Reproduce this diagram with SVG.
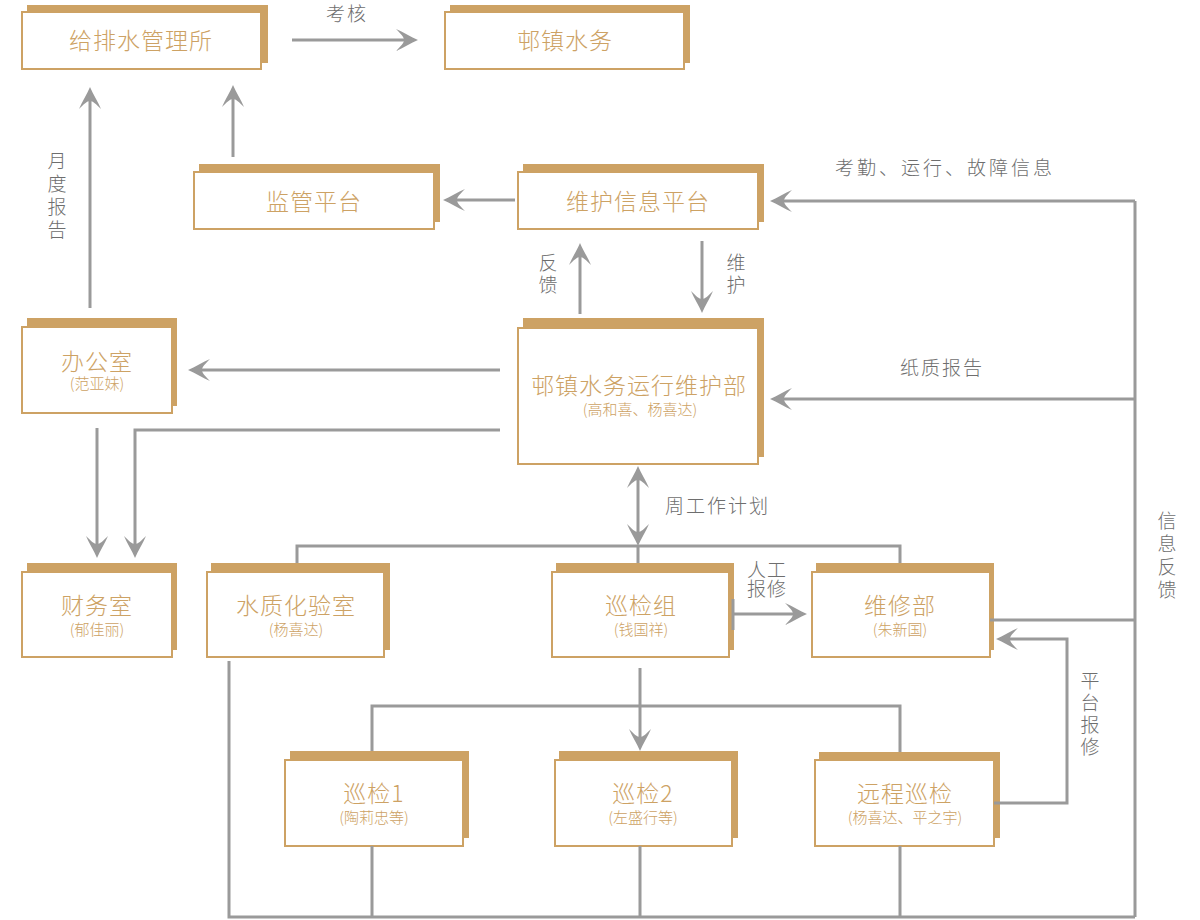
<svg xmlns="http://www.w3.org/2000/svg" width="1200" height="920" viewBox="0 0 1200 920">
<style>
.sh{fill:#CDA264}
.bx{fill:#fff;stroke:#CDA264;stroke-width:2}
.t{font-family:"Noto Sans CJK SC","Noto Sans",sans-serif;font-weight:300;fill:#CDA264;font-size:23px;text-anchor:middle;letter-spacing:1px}
.s{font-size:15px;letter-spacing:0}
.l{font-family:"Noto Sans CJK SC","Noto Sans",sans-serif;font-weight:300;fill:#6e6e6e;font-size:19px;letter-spacing:2px}
.h{text-anchor:middle;letter-spacing:1px}
.v{writing-mode:vertical-rl;text-orientation:upright;letter-spacing:3px}
.c{fill:none;stroke:#9a9a9a;stroke-width:3}
.a{marker-end:url(#ah)}
.d{marker-start:url(#ah);marker-end:url(#ah)}
</style>
<defs>
<marker id="ah" viewBox="-24 -12 26 24" markerWidth="26" markerHeight="24" refX="-4" refY="0" orient="auto-start-reverse" markerUnits="userSpaceOnUse">
<path d="M0,0 C-7,-3 -15,-8 -22,-11 C-17,-6 -14,-3 -14,0 C-14,3 -17,6 -22,11 C-15,8 -7,3 0,0Z" fill="#9a9a9a"/>
</marker>
</defs>
<rect width="1200" height="920" fill="#fff"/>

<g id="n-gps">
<rect class="sh" x="27" y="5" width="241" height="58"/>
<rect class="bx" x="22" y="12" width="239" height="57"/>
<text class="t" x="141" y="49">给排水管理所</text>
</g>
<g id="n-sw">
<rect class="sh" x="450" y="5" width="240" height="58"/>
<rect class="bx" x="445" y="12" width="239" height="57"/>
<text class="t" x="565" y="49">邨镇水务</text>
</g>
<g id="n-jg">
<rect class="sh" x="199" y="164" width="241" height="58"/>
<rect class="bx" x="194" y="172" width="240" height="57"/>
<text class="t" x="314" y="210">监管平台</text>
</g>
<g id="n-wh">
<rect class="sh" x="523" y="164" width="241" height="58"/>
<rect class="bx" x="518" y="172" width="240" height="57"/>
<text class="t" x="638" y="210">维护信息平台</text>
</g>
<g id="n-yw">
<rect class="sh" x="523" y="318" width="241" height="139"/>
<rect class="bx" x="518" y="328" width="240" height="136"/>
<text class="t"><tspan x="639" y="394">邨镇水务运行维护部</tspan><tspan class="s" x="640" y="415">(高和喜、杨喜达)</tspan></text>
</g>
<g id="n-bgs">
<rect class="sh" x="27" y="318" width="150" height="88"/>
<rect class="bx" x="22" y="327" width="150" height="86"/>
<text class="t"><tspan x="97" y="370">办公室</tspan><tspan class="s" x="97" y="389">(范亚妹)</tspan></text>
</g>
<g id="n-cws">
<rect class="sh" x="27" y="563" width="150" height="87"/>
<rect class="bx" x="22" y="572" width="150" height="85"/>
<text class="t"><tspan x="97" y="614">财务室</tspan><tspan class="s" x="97" y="635">(郁佳丽)</tspan></text>
</g>
<g id="n-szh">
<rect class="sh" x="211" y="563" width="179" height="87"/>
<rect class="bx" x="207" y="572" width="177" height="85"/>
<text class="t"><tspan x="296" y="614">水质化验室</tspan><tspan class="s" x="296" y="635">(杨喜达)</tspan></text>
</g>
<g id="n-xjz">
<rect class="sh" x="556" y="563" width="178" height="87"/>
<rect class="bx" x="552" y="572" width="177" height="85"/>
<text class="t"><tspan x="641" y="614">巡检组</tspan><tspan class="s" x="641" y="635">(钱国祥)</tspan></text>
</g>
<g id="n-wxb">
<rect class="sh" x="816" y="563" width="178" height="87"/>
<rect class="bx" x="812" y="572" width="178" height="85"/>
<text class="t"><tspan x="900" y="614">维修部</tspan><tspan class="s" x="900" y="635">(朱新国)</tspan></text>
</g>
<g id="n-xj1">
<rect class="sh" x="290" y="751" width="179" height="87"/>
<rect class="bx" x="285" y="760" width="178" height="86"/>
<text class="t"><tspan x="374" y="802">巡检1</tspan><tspan class="s" x="374" y="823">(陶莉忠等)</tspan></text>
</g>
<g id="n-xj2">
<rect class="sh" x="559" y="751" width="179" height="87"/>
<rect class="bx" x="555" y="760" width="177" height="86"/>
<text class="t"><tspan x="643" y="802">巡检2</tspan><tspan class="s" x="643" y="823">(左盛行等)</tspan></text>
</g>
<g id="n-ycxj">
<rect class="sh" x="819" y="752" width="181" height="86"/>
<rect class="bx" x="815" y="760" width="179" height="86"/>
<text class="t"><tspan x="905" y="802">远程巡检</tspan><tspan class="s" x="905" y="823">(杨喜达、平之宇)</tspan></text>
</g>

<g id="connectors">
<path class="c a" d="M292,40 H414"/>
<path class="c a" d="M233,157 V89"/>
<path class="c a" d="M90,308 V91"/>
<path class="c a" d="M515,200 H447"/>
<path class="c a" d="M580,314 V247"/>
<path class="c a" d="M702,241 V309"/>
<path class="c a" d="M1135,201 H774"/>
<path class="c" d="M1135,201 V917"/>
<path class="c a" d="M1135,399 H774"/>
<path class="c a" d="M500,370 H192"/>
<path class="c a" d="M97,428 V554"/>
<path class="c a" d="M500,430 H135 V554"/>
<path class="c d" d="M638,470 V542"/>
<path class="c" d="M297,563 V546 H900 V563 M638,546 V563"/>
<path class="c a" d="M733,614 H803"/>
<path class="c" d="M733,599 V630"/>
<path class="c" d="M990,620 H1135"/>
<path class="c a" d="M994,803 H1067 V639 H1000"/>
<path class="c a" d="M640,668 V747"/>
<path class="c" d="M372,751 V706 H900 V752"/>
<path class="c" d="M229,661 V917 H1135 M372,846 V917 M640,846 V917 M900,846 V917"/>
</g>

<g id="labels">
<text class="l" x="326" y="21">考核</text>
<text class="l" x="835" y="175" style="letter-spacing:3px">考勤、运行、故障信息</text>
<text class="l" x="900" y="375">纸质报告</text>
<text class="l" x="665" y="513">周工作计划</text>
<text class="l h"><tspan x="767" y="577">人工</tspan><tspan x="767" y="596">报修</tspan></text>
<text class="l v" x="57" y="151" style="letter-spacing:4px">月度报告</text>
<text class="l v" x="548" y="253">反馈</text>
<text class="l v" x="736" y="253">维护</text>
<text class="l v" x="1167" y="511" style="letter-spacing:4px">信息反馈</text>
<text class="l v" x="1090" y="671">平台报修</text>
</g>
</svg>
